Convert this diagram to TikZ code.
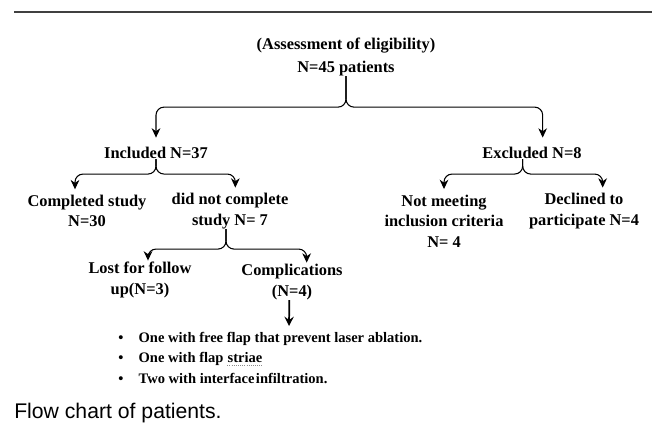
\documentclass[tikz,border=0pt]{standalone}
\usepackage{fontspec}
\setmainfont{Liberation Serif}
\newfontfamily\capfont{Liberation Sans}
\usepackage{tikz}
\usetikzlibrary{arrows.meta, positioning}

\begin{document}
\begin{tikzpicture}[x=0.75pt, y=-0.75pt]
    \tikzstyle{txt} = [
        align=center, inner sep=0pt,
        font=\bfseries\fontsize{12.3}{15.5}\selectfont
    ]

    \tikzstyle{branch} = [
        draw, line width=0.8pt, rounded corners=6pt,
        -{Stealth[length=7pt, width=6.5pt, inset=2.2pt]}
    ]

    \tikzstyle{item} = [
        anchor=west, inner sep=0pt,
        font=\bfseries\fontsize{10.9}{14.6}\selectfont
    ]

    \useasboundingbox (0,0) rectangle (655,442);

    % Rule at the top
    \draw[line width=1.1pt, black!75] (14,12) -- (652,12);

    % First level
    \node[txt, font=\bfseries\fontsize{12.3}{17}\selectfont] (eligibility) at (346,57) {
        (Assessment of eligibility)\\N=45 patients
    };
    \node[txt] (included) at (156,153) {Included N=37};
    \node[txt] (excluded) at (532,153) {Excluded N=8};

    % Included side
    \node[txt] (completed) at (87,211) {Completed study\\N=30};
    \node[txt] (not_completed) at (230,211) {did not complete\\study N= 7};
    \node[txt] (lost) at (140,280) {Lost for follow\\up(N=3)};
    \node[txt] (complications) at (292,282) {Complications\\(N=4)};

    % Excluded side
    \node[txt] (not_meeting) at (444,221) {Not meeting\\inclusion criteria\\N= 4};
    \node[txt] (declined) at (584,211) {Declined to\\participate N=4};

    % Complications list
    \coordinate (list_top) at (289,326);
    \node[item] (item_a) at (118,339) {\textbullet\hspace{11.5pt}One with free flap that prevent laser ablation.};
    \node[item] (item_b) at (118,358.5) {\textbullet\hspace{11.5pt}One with flap};
    \node[item, anchor=base west, xshift=2.7pt] (striae) at (item_b.base east) {striae};
    \node[item] (item_c) at (118,378) {\textbullet\hspace{11.5pt}Two with interface\hspace{1pt}infiltration.};
    \draw[black!45, densely dotted, line width=0.6pt]
        ([yshift=-2.2pt]striae.base west) -- ([yshift=-2.2pt]striae.base east);

    % Branches
    \draw[branch, shorten >=7pt] (eligibility.south) -- ++(0,31) -| (included.north);
    \draw[branch, shorten >=7pt] (eligibility.south) -- ++(0,31) -| ([xshift=8pt]excluded.north);

    \draw[branch, shorten >=4pt] (included.south) -- ++(0,15) -| ([xshift=-9pt]completed.north);
    \draw[branch, shorten >=4pt] (included.south) -- ++(0,15) -| ([xshift=4pt]not_completed.north);

    \draw[branch, shorten >=4pt] ([xshift=-7pt]excluded.south) -- ++(0,15) -| (not_meeting.north);
    \draw[branch, shorten >=4pt] ([xshift=-7pt]excluded.south) -- ++(0,15) -| ([xshift=14pt]declined.north);

    \draw[branch, shorten >=1pt] ([xshift=-3pt]not_completed.south) -- ++(0,20) -| ([xshift=6pt]lost.north);
    \draw[branch, shorten >=1pt] ([xshift=-3pt]not_completed.south) -- ++(0,20) -| ([xshift=11pt]complications.north);

    \draw[line width=1.3pt, -{Stealth[length=7pt, width=7pt, inset=2.5pt]}]
        ([xshift=-2pt]complications.south) -- (list_top);

    % Caption
    \node[anchor=west, inner sep=0pt, font=\capfont\fontsize{15.9}{18}\selectfont] (caption) at (14,413) {Flow chart of patients.};
\end{tikzpicture}
\end{document}
